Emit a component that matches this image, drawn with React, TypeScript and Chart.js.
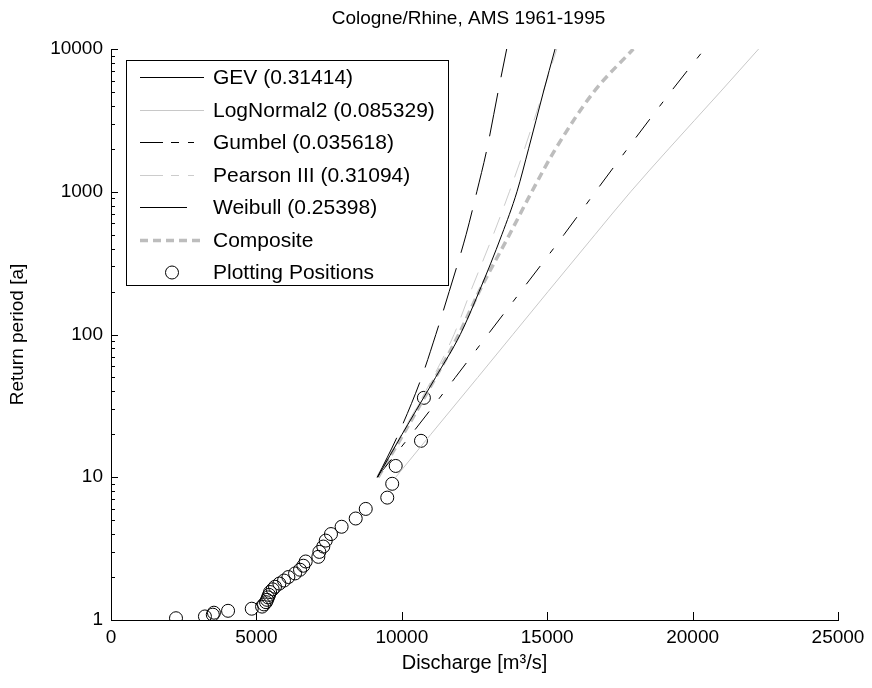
import React, { useEffect, useRef } from 'react';
import { Chart, registerables } from 'chart.js';

Chart.register(...registerables);

const chartTitle = 'Cologne/Rhine, AMS 1961-1995';
const xLabel = 'Discharge [m³/s]';
const yLabel = 'Return period [a]';
const xTicks = [0, 5000, 10000, 15000, 20000, 25000];
const yTicks = [1, 10, 100, 1000, 10000];

// Return periods at which the fitted curves are read
const returnT = [10, 20, 50, 100, 200, 500, 1000, 2000, 5000, 10000];
const gevQ = [9170, 10010, 11160, 12010, 12660, 13440, 13960, 14360, 14870, 15270];
const lognormalQ = [9790, 11000, 12610, 13820, 15030, 16640, 17870, 19180, 20950, 22270];
const gumbelQ = [9160, 9880, 10680, 11170, 11630, 12210, 12580, 12930, 13310, 13607];
const pearsonQ = [9200, 9990, 11070, 11795, 12365, 13146, 13700, 14220, 14860, 15330];
const weibullQ = [9150, 10330, 11840, 12960, 14090, 15575, 16660, 17760, 19245, 20410];
const compositeQ = [9180, 10050, 11160, 11960, 12660, 13700, 14470, 15290, 16600, 17960];

// Plotting positions (annual maxima)
const ppQ = [10760, 10660, 9790, 9670, 9500, 8760, 8415, 7930, 7565, 7385, 7300, 7165, 7130, 6695, 6615, 6500, 6330, 6100, 5950, 5790, 5640, 5560, 5470, 5435, 5400, 5365, 5330, 5260, 5195, 4840, 4025, 3540, 3500, 3230, 2235];
const ppT = [36, 18, 12, 9, 7.2, 6, 5.14, 4.5, 4, 3.6, 3.27, 3, 2.77, 2.57, 2.4, 2.25, 2.12, 2, 1.89, 1.8, 1.71, 1.64, 1.57, 1.5, 1.44, 1.385, 1.333, 1.286, 1.241, 1.2, 1.16, 1.125, 1.09, 1.059, 1.029];

const FONT = "'Liberation Sans', Arial, Helvetica, sans-serif";

const toPts = (q: number[], t: number[]) => q.map((v, i) => ({ x: v, y: t[i] }));

const lineDs = (label: string, q: number[], color: string, width: number, dash: number[], legendDash: number[]) => ({
  label,
  data: toPts(q, returnT),
  showLine: true,
  borderColor: color,
  backgroundColor: color,
  borderWidth: width,
  borderDash: dash,
  legendDash,
  pointRadius: 0,
  pointHoverRadius: 0,
  cubicInterpolationMode: 'monotone' as const,
  fill: false,
});

const legendPlugin = {
  id: 'matlabLegend',
  afterDraw(chart: any) {
    const { ctx, chartArea } = chart;
    const bx = chartArea.left + 15;
    const by = chartArea.top + 11;
    const bw = 322;
    const bh = 225;
    ctx.save();
    ctx.fillStyle = '#ffffff';
    ctx.fillRect(bx, by, bw, bh);
    ctx.strokeStyle = '#000000';
    ctx.lineWidth = 1;
    ctx.setLineDash([]);
    ctx.strokeRect(bx + 0.5, by + 0.5, bw, bh);
    ctx.font = `21px ${FONT}`;
    ctx.textBaseline = 'middle';
    ctx.textAlign = 'left';
    chart.data.datasets.forEach((ds: any, i: number) => {
      const cy = Math.round(by + 17 + i * 32.5) + 0.5;
      if (ds.showLine === false) {
        ctx.setLineDash([]);
        ctx.strokeStyle = ds.borderColor;
        ctx.lineWidth = 1;
        ctx.beginPath();
        ctx.arc(bx + 46, cy, ds.pointRadius, 0, Math.PI * 2);
        ctx.stroke();
      } else {
        ctx.setLineDash(ds.legendDash || []);
        ctx.strokeStyle = ds.borderColor;
        ctx.lineWidth = ds.borderWidth;
        ctx.beginPath();
        ctx.moveTo(bx + 14, cy);
        ctx.lineTo(bx + 78, cy);
        ctx.stroke();
      }
      ctx.setLineDash([]);
      ctx.fillStyle = '#000000';
      ctx.fillText(ds.label, bx + 87, cy + 1);
    });
    ctx.restore();
  },
};

const ticksPlugin = {
  id: 'inwardTicks',
  afterDraw(chart: any) {
    const { ctx, chartArea, scales } = chart;
    const xs = scales.x;
    const ys = scales.y;
    ctx.save();
    ctx.strokeStyle = '#000000';
    ctx.lineWidth = 1;
    ctx.setLineDash([]);
    ctx.beginPath();
    xTicks.forEach((v) => {
      const px = Math.round(xs.getPixelForValue(v)) + 0.5;
      ctx.moveTo(px, chartArea.bottom);
      ctx.lineTo(px, chartArea.bottom - 8);
    });
    for (let d = 0; d < yTicks.length; d++) {
      const dec = yTicks[d];
      const maxM = d === yTicks.length - 1 ? 1 : 9;
      for (let m = 1; m <= maxM; m++) {
        const v = dec * m;
        const py = Math.round(ys.getPixelForValue(v)) + 0.5;
        const len = m === 1 ? 7 : 4;
        ctx.moveTo(chartArea.left, py);
        ctx.lineTo(chartArea.left + len, py);
      }
    }
    ctx.stroke();
    // title
    ctx.fillStyle = '#000000';
    ctx.font = `19px ${FONT}`;
    ctx.textAlign = 'center';
    ctx.textBaseline = 'middle';
    ctx.fillText(chartTitle, (chartArea.left + chartArea.right) / 2 - 6, 19);
    ctx.restore();
  },
};

export default function App() {
  const ref = useRef<HTMLCanvasElement | null>(null);
  useEffect(() => {
    if (!ref.current) return;
    Chart.defaults.font.family = FONT;
    const chart = new Chart(ref.current, {
      type: 'scatter',
      data: {
        datasets: [
          lineDs('GEV (0.31414)', gevQ, '#000000', 1, [], []),
          lineDs('LogNormal2 (0.085329)', lognormalQ, '#c8c8c8', 1, [], []),
          lineDs('Gumbel (0.035618)', gumbelQ, '#000000', 1, [44, 16], [23, 8, 8, 9, 6, 10]),
          lineDs('Pearson III (0.31094)', pearsonQ, '#cccccc', 1, [18, 12], [23, 8, 8, 9, 6, 10]),
          lineDs('Weibull (0.25398)', weibullQ, '#000000', 1, [23, 16, 6, 16], [47, 17, 3, 20]),
          lineDs('Composite', compositeQ, '#bdbdbd', 3.5, [8, 5], [8, 5]),
          {
            label: 'Plotting Positions',
            data: toPts(ppQ, ppT),
            showLine: false,
            borderColor: '#000000',
            backgroundColor: 'rgba(0,0,0,0)',
            borderWidth: 1,
            pointRadius: 6.5,
            pointHoverRadius: 6.5,
            pointStyle: 'circle',
          } as any,
        ],
      },
      options: {
        responsive: false,
        animation: false,
        events: [],
        layout: { padding: { top: 49, right: 34, left: 0, bottom: 0 } },
        plugins: {
          legend: { display: false },
          title: { display: false },
          tooltip: { enabled: false },
        },
        scales: {
          x: {
            type: 'linear',
            position: 'bottom',
            min: 0,
            max: 25000,
            afterBuildTicks: (s: any) => {
              s.ticks = xTicks.map((v) => ({ value: v }));
            },
            afterFit: (s: any) => {
              s.height = 68;
            },
            grid: { display: false, drawTicks: false },
            border: { display: true, color: '#000000', width: 1 },
            ticks: {
              color: '#000000',
              font: { size: 19 },
              padding: 6,
              maxRotation: 0,
              autoSkip: false,
              callback: (v: any) => String(v),
            },
            title: {
              display: true,
              text: xLabel,
              color: '#000000',
              font: { size: 20 },
              padding: { top: 0, bottom: 13 },
            },
          },
          y: {
            type: 'logarithmic',
            position: 'left',
            min: 1,
            max: 10000,
            afterBuildTicks: (s: any) => {
              s.ticks = yTicks.map((v) => ({ value: v }));
            },
            afterFit: (s: any) => {
              s.width = 111;
            },
            grid: { display: false, drawTicks: false },
            border: { display: true, color: '#000000', width: 1 },
            ticks: {
              color: '#000000',
              font: { size: 19 },
              padding: 8,
              autoSkip: false,
              callback: (v: any) => String(v),
            },
            title: {
              display: true,
              text: yLabel,
              color: '#000000',
              font: { size: 19 },
              padding: { top: 6, bottom: 0 },
            },
          },
        },
      },
      plugins: [ticksPlugin, legendPlugin],
    } as any);
    return () => chart.destroy();
  }, []);
  return (
    <div style={{ position: 'absolute', left: 0, top: 0, width: 872, height: 688, background: '#fff' }}>
      <canvas ref={ref} width={872} height={688} />
    </div>
  );
}
